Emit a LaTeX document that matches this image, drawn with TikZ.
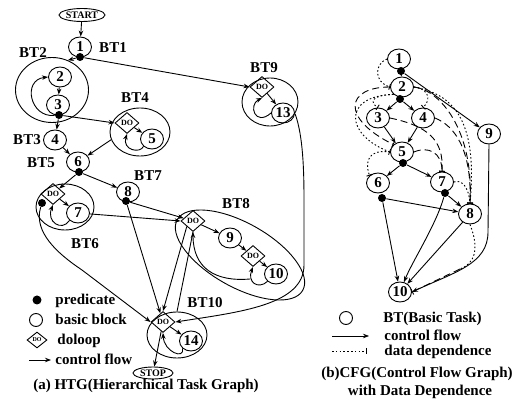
\documentclass[tikz,border=0pt]{standalone}
\usepackage{fontspec}
\setmainfont{Liberation Serif}
\usetikzlibrary{arrows.meta,shapes.geometric}
\begin{document}
\begin{tikzpicture}[x=1pt,y=-1pt,
  line width=0.9pt,
  every node/.style={inner sep=0pt},
  bb/.style={draw,ellipse,minimum width=23pt,minimum height=20pt,font=\bfseries\fontsize{15}{15}\selectfont},
  pdot/.style={circle,fill,minimum size=8pt},
  doloop/.style={draw,diamond,minimum width=24pt,minimum height=21pt,font=\bfseries\fontsize{8}{8}\selectfont},
  region/.style={draw,ellipse},
  term/.style={draw,ellipse,font=\bfseries\fontsize{10}{10}\selectfont},
  lbl/.style={font=\bfseries\fontsize{15}{15}\selectfont},
  txt/.style={font=\bfseries\fontsize{15}{15}\selectfont,anchor=base west},
  ar/.style={-{Stealth[length=6pt,width=4.5pt]}},
  dd/.style={dash pattern=on 1.6pt off 2.2pt,-{Bar[width=6pt]}},
  dsh/.style={dash pattern=on 7pt off 4pt,-{Bar[width=6pt]}},
]
\useasboundingbox (0,0) rectangle (512,403);

% ---------------- (a) HTG ----------------
\node[term,minimum width=46pt,minimum height=13pt] (start) at (82,15) {START};
\node[bb] (n1) at (80,47) {1};
\node[pdot] (d1) at (80,57) {};
\node[lbl] at (113,48) {BT1};

\node[region,minimum width=73pt,minimum height=65pt] (bt2) at (52,90) {};
\node[lbl] at (33,53) {BT2};
\node[bb] (n2) at (60,77) {2};
\node[bb] (n3) at (58,105) {3};
\node[pdot] (d3) at (59,115) {};

\node[bb] (n4) at (55,140) {4};
\node[lbl] at (27,140) {BT3};

\node[region,minimum width=60pt,minimum height=48pt] (bt4) at (140,132) {};
\node[lbl] at (135,98) {BT4};
\node[doloop] (do4) at (127,123) {DO};
\node[bb] (n5) at (152,139) {5};

\node[bb] (n6) at (78,162) {6};
\node[pdot] (d6) at (79,172) {};
\node[lbl] at (41,163) {BT5};

\node[bb] (n8) at (128,192) {8};
\node[pdot] (d8) at (126,201) {};
\node[lbl] at (148,176) {BT7};

\node[region,minimum width=58pt,minimum height=46pt] (bt6) at (65,207) {};
\node[doloop] (do6) at (53,194) {DO};
\node[pdot] (d6b) at (42,203) {};
\node[bb] (n7) at (78,213) {7};
\node[lbl] at (85,244) {BT6};

\node[region,minimum width=144pt,minimum height=64pt,rotate=-29.4] (bt8) at (240,255) {};
\node[lbl] at (236,204) {BT8};
\node[doloop] (do8a) at (193,221) {DO};
\node[bb] (n9) at (230,238) {9};
\node[doloop] (do8b) at (253,256) {DO};
\node[bb] (n10) at (276,274) {10};

\node[region,minimum width=56pt,minimum height=48pt] (bt9) at (270,102) {};
\node[lbl] at (264,68) {BT9};
\node[doloop] (do9) at (262,87) {DO};
\node[bb] (n13) at (283,113) {13};

\node[region,minimum width=60pt,minimum height=46pt] (bt10) at (177,335) {};
\node[lbl] at (205,303) {BT10};
\node[doloop] (do10) at (163,322) {DO};
\node[bb] (n14) at (191,341) {14};
\node[term,minimum width=40pt,minimum height=12pt] (stop) at (153,373) {STOP};

% edges (a)
\draw[ar] (start) -- (n1);
\draw[ar] (d1) -- (bt2.62);
\draw[ar] (d1) -- (do9.west);
\draw[ar] (n2) -- (n3);
\draw[ar] (d3) .. controls (30,118) and (22,80) .. (n2.west);
\draw[ar] (d3) -- (n4);
\draw[ar] (d3) -- (do4.west);
\draw[ar] (do4) -- (n5);
\draw[ar] (n5.south west) .. controls (140,154) and (122,150) .. (do4.south);
\draw[ar] (n4) -- (n6);
\draw[ar] (bt4.195) -- (n6);
\draw[ar] (d6) -- (do6.north east);
\draw[ar] (d6) -- (n8);
\draw[ar] (do6) -- (n7);
\draw[ar] (n7.south west) .. controls (62,232) and (46,222) .. (do6.south);
\draw[ar] (n7) -- (do8a.west);
\draw[ar] (d8) -- (do8a);
\draw[ar] (d8) -- (do10);
\coordinate (k6) at (82,270);
\draw[ar] (d6b) .. controls (33,232) and (58,254) .. (k6) -- (do10.west);
\draw[ar] (do8a) -- (n9);
\draw[ar] (n9) -- (do8b);
\draw[ar] (do8b) -- (n10);
\draw[ar] (n10.south west) .. controls (258,290) and (247,282) .. (do8b.south);
\coordinate (lp8) at (250,279);
\draw[ar] (lp8) .. controls (215,282) and (193,268) .. (do8a.south);
\draw[ar] (do8a.south west) -- (do10.north);
\draw (bt10.north) -- (do8a.south);
\draw[ar] (do9) -- (n13);
\draw[ar] (n13.west) .. controls (255,127) and (248,105) .. (do9.south);
\coordinate (k9a) at (304,200);
\coordinate (k9b) at (304,265);
\draw[ar] (bt9.-25) .. controls (303,135) and (304,170) .. (k9a) -- (k9b) .. controls (304,305) and (240,312) .. (do10.east);
\draw[ar] (do10) -- (n14);
\draw[ar] (n14.south west) .. controls (185,360) and (164,352) .. (do10.south);
\draw[ar] (do10) -- (stop);

% legend (a)
\node[pdot,minimum size=9pt] (lg1) at (37,300) {};
\node[txt] at (55,304.5) {predicate};
\node[draw,circle,minimum size=13pt] (lg2) at (36,320) {};
\node[txt] at (55,324.5) {basic block};
\node[doloop,minimum width=20pt,minimum height=16pt,font=\bfseries\fontsize{6}{6}\selectfont] (lg3) at (37,340) {DO};
\node[txt] at (57,344.5) {doloop};
\coordinate (la1) at (29,360);
\coordinate (la2) at (51,360);
\draw[ar] (la1) -- (la2);
\node[txt] at (55,364.5) {control flow};
\node[lbl] at (146,386) {(a) HTG(Hierarchical Task Graph)};

% ---------------- (b) CFG ----------------
\node[bb] (r1) at (399,59) {1};
\node[pdot] (rd1) at (401,71) {};
\node[bb] (r2) at (402,87) {2};
\node[pdot] (rd2) at (400,99) {};
\node[bb] (r3) at (378,118) {3};
\node[bb] (r4) at (423,118) {4};
\node[bb] (r9) at (489,134) {9};
\node[bb] (r5) at (402,152) {5};
\node[pdot] (rd5) at (403,163) {};
\node[bb] (r6) at (378,183) {6};
\node[pdot] (rd6) at (382,198) {};
\node[bb] (r7) at (442,182) {7};
\node[pdot] (rd7) at (445,193) {};
\node[bb] (r8) at (470,214) {8};
\node[bb] (r10) at (400,292) {10};

\draw[ar] (rd1) -- (r2);
\draw[ar] (rd1) -- (r9);
\draw[ar] (rd2) -- (r3);
\draw[ar] (rd2) -- (r4);
\draw[ar] (r3) -- (r5);
\draw[ar] (r4) -- (r5);
\draw[ar] (rd5) -- (r6);
\draw[ar] (rd5) -- (r7);
\draw[ar] (rd6) -- (r8);
\draw[ar] (rd7) -- (r8);
\draw[ar] (rd6) -- (r10);
\draw[ar] (rd7) .. controls (436,225) and (412,262) .. (r10);
\draw[ar] (r8) -- (r10);
\coordinate (k9c) at (488,232);
\draw[ar] (r9.south) -- (k9c) .. controls (488,264) and (455,272) .. (r10.east);

% data dependence
\draw[dd] (r1.west) .. controls (374,64) and (374,82) .. (r2.west);
\draw[dsh] (r2.west) .. controls (346,87) and (340,118) .. (r5.north west);
\draw[dd] (r2.south west) .. controls (342,96) and (345,135) .. (r5.west);
\draw[dd] (r2.south west) .. controls (372,95) and (369,102) .. (r3.north);
\draw[dd] (r2.east) .. controls (426,88) and (433,98) .. (r4.north);
\draw[dsh] (r2.east) .. controls (440,90) and (474,130) .. (r8.north);
\draw[dd] (r2.east) .. controls (452,94) and (478,118) .. (r8.north);
\draw[dsh] (r3.east) .. controls (428,126) and (444,140) .. (r7.north);
\draw[dsh] (r4.east) .. controls (455,126) and (472,150) .. (r8.north);
\draw[dsh] (r5.east) .. controls (428,146) and (442,152) .. (r7.north);
\draw[dd] (r5.west) .. controls (370,149) and (364,160) .. (r6.north west);
\draw[dd] (r7.east) .. controls (462,179) and (469,188) .. (r8.north);
\coordinate (k8) at (460,269);
\draw[dash pattern=on 1.6pt off 2.2pt] (r8.south) .. controls (480,250) and (474,264) .. (k8);
\draw[dsh] (k8) -- (r10.east);

% legend (b)
\node[draw,circle,minimum size=13pt] (rl1) at (346,318) {};
\node[txt] at (383,322.5) {BT(Basic Task)};
\coordinate (rla1) at (332,336);
\coordinate (rla2) at (369,336);
\draw[ar,line width=0.7pt] (rla1) -- (rla2);
\node[txt] at (384,340.5) {control flow};
\coordinate (rlb1) at (332,351);
\coordinate (rlb2) at (367,351);
\draw[dd,line width=0.7pt] (rlb1) -- (rlb2);
\node[txt] at (384,355.5) {data dependence};
\node[lbl] at (417,374) {(b)CFG(Control Flow Graph)};
\node[lbl] at (420,392) {with Data Dependence};
\end{tikzpicture}
\end{document}
